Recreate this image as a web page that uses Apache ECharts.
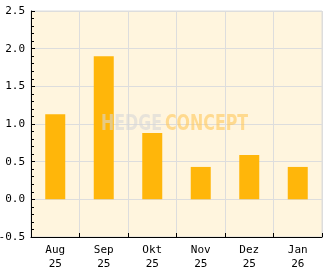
<!DOCTYPE html>
<html><head><meta charset="utf-8">
<script src="https://cdn.jsdelivr.net/npm/echarts@6/dist/echarts.min.js"></script>
<style>html,body{margin:0;padding:0;background:#fff}#c{width:332px;height:269px}</style>
</head><body><div id="c"></div>
<script>
var categories = ['Aug\n25','Sep\n25','Okt\n25','Nov\n25','Dez\n25','Jan\n26'];
var values = [1.13, 1.90, 0.88, 0.43, 0.59, 0.43];
var yTicks = [-0.5, 0.0, 0.5, 1.0, 1.5, 2.0, 2.5];

var chart = echarts.init(document.getElementById('c'), null, {renderer:'canvas'});
var font = 'DejaVu Sans Mono';
chart.setOption({
  animation:false,
  backgroundColor:'#ffffff',
  grid:{left:31,right:10,top:11,bottom:32,outerBoundsMode:'none',containLabel:false,show:true,backgroundColor:'#FFF5DE',borderColor:'#dddddd',borderWidth:1},
  xAxis:{type:'category',data:categories,boundaryGap:true,
    axisLine:{onZero:false,lineStyle:{color:'#000',width:1}},
    axisTick:{show:true,inside:true,length:4,alignWithLabel:false,lineStyle:{color:'#000'}},
    axisLabel:{color:'#000',fontFamily:font,fontSize:11,lineHeight:14,margin:6},
    splitLine:{show:true,lineStyle:{color:'#dddddd',width:1}}
  },
  yAxis:{type:'value',min:yTicks[0],max:yTicks[yTicks.length-1],interval:0.5,
    axisLine:{show:true,lineStyle:{color:'#000',width:1}},
    axisTick:{show:true,inside:true,length:4,lineStyle:{color:'#000'}},
    minorTick:{show:true,splitNumber:5,length:3,lineStyle:{color:'#000'}},
    axisLabel:{color:'#000',fontFamily:font,fontSize:11,margin:6,formatter:function(v){return v.toFixed(1);}},
    splitLine:{show:true,lineStyle:{color:'#dddddd',width:1}}
  },
  series:[{type:'bar',data:values,barWidth:20,itemStyle:{color:'#FFB60A'},z:1}],
  graphic:[
    {type:'text',x:101,y:113,scaleX:0.8,z:100,style:{text:'HEDGE',font:'bold 22px "DejaVu Sans Condensed"',fill:'rgba(215,215,215,0.6)'}},
    {type:'text',x:165,y:113,scaleX:0.8,z:100,style:{text:'CONCEPT',font:'bold 22px "DejaVu Sans Condensed"',fill:'rgba(255,200,90,0.6)'}}
  ]
});
</script></body></html>
